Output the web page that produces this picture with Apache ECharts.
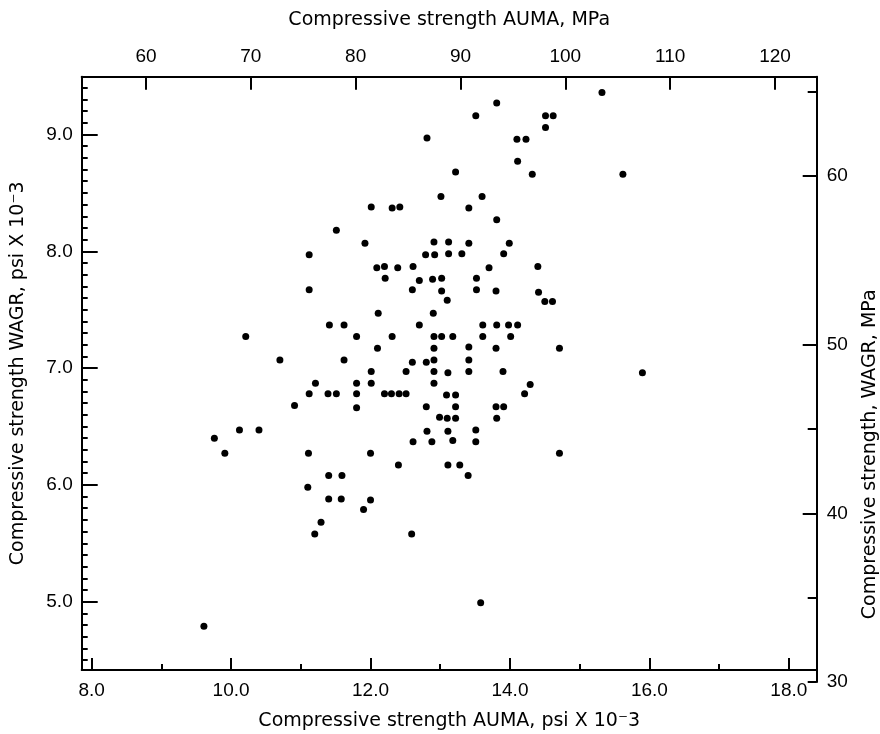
<!DOCTYPE html>
<html><head><meta charset="utf-8">
<script src="https://cdn.jsdelivr.net/npm/echarts@6/dist/echarts.min.js"></script>
<style>html,body{margin:0;padding:0;background:#fff}#c{width:880px;height:734px}</style>
</head><body><div id="c"></div>
<script>
// AUMA compressive strength, psi x 10^-3 (x)
const aumaPsi = [
12.01,12.31,12.42,11.51,11.92,11.12,12.09,12.20,12.39,12.61,12.21,12.70,12.60,11.12,12.11,11.41,11.62,12.70,10.21,11.80,12.31,
13.81,13.51,14.51,14.62,14.51,12.81,14.10,14.23,14.11,13.22,14.32,13.01,13.60,13.41,13.81,12.91,13.12,13.41,13.99,12.79,12.92,13.12,13.31,13.91,13.70,14.40,12.89,13.02,13.52,13.02,13.52,13.80,14.41,13.10,14.50,14.61,12.90,13.61,13.81,13.98,14.11,12.91,13.02,13.18,13.61,14.01,
12.10,10.70,11.62,12.60,12.01,12.51,11.21,11.80,12.01,11.12,11.39,11.51,11.80,12.20,12.30,12.41,12.51,10.91,11.80,10.12,10.40,12.61,11.11,12.00,12.40,11.40,11.59,11.10,11.40,11.58,12.00,11.90,11.29,11.20,12.59,
12.91,13.41,13.80,14.71,12.80,12.91,13.41,12.91,13.11,13.41,13.90,12.91,14.29,14.21,13.09,13.22,12.80,13.22,13.80,13.91,12.99,13.10,13.22,13.81,12.81,13.11,13.51,12.88,13.18,13.51,14.71,13.11,13.28,13.40,
15.32,15.62,15.90,13.58,9.76,9.91,9.61
];
// WAGR compressive strength, psi x 10^-3 (y)
const wagrPsi = [
8.38,8.37,8.38,8.18,8.07,7.97,7.86,7.87,7.86,7.87,7.77,7.75,7.67,7.67,7.47,7.37,7.37,7.37,7.27,7.27,7.27,
9.27,9.16,9.16,9.16,9.06,8.97,8.96,8.96,8.77,8.68,8.66,8.47,8.47,8.37,8.27,8.08,8.08,8.07,8.07,7.97,7.97,7.98,7.98,7.98,7.86,7.87,7.76,7.77,7.77,7.66,7.67,7.66,7.65,7.58,7.57,7.57,7.47,7.37,7.37,7.37,7.37,7.27,7.27,7.27,7.27,7.27,
7.17,7.07,7.07,7.05,6.97,6.97,6.87,6.87,6.87,6.78,6.78,6.78,6.78,6.78,6.78,6.78,6.78,6.68,6.66,6.47,6.47,6.37,6.27,6.27,6.17,6.08,6.08,5.98,5.88,5.88,5.87,5.79,5.68,5.58,5.58,
7.17,7.18,7.17,7.17,7.05,7.07,7.07,6.97,6.96,6.97,6.97,6.87,6.86,6.78,6.77,6.77,6.67,6.67,6.67,6.67,6.58,6.57,6.57,6.57,6.46,6.46,6.47,6.37,6.38,6.37,6.27,6.17,6.17,6.08,
9.36,8.66,6.96,4.99,6.40,6.27,4.79
];
const bottomTicks = [8, 10, 12, 14, 16, 18];
const bottomMinorTicks = [9, 11, 13, 15, 17];
const topTicks = [60, 70, 80, 90, 100, 110, 120];
const leftTicks = [5, 6, 7, 8, 9];
const rightTicks = [40, 50, 60];
const rightLabels = [30, 40, 50, 60];
const rightMinorTicks = [30, 35, 45, 65];
const leftMinorTicks = [];
for (let i = 45; i <= 94; i++) if (i % 10) leftMinorTicks.push(i / 10);

const LABEL_FONT = 'Liberation Sans';
const TITLE_FONT = 'DejaVu Sans';
const lbl = { color: '#000', fontFamily: LABEL_FONT, fontSize: 19 };
const ttl = { color: '#000', fontFamily: TITLE_FONT, fontSize: 19 };
const line = { show: true, onZero: false, lineStyle: { color: '#000', width: 2 } };
const noLine = { show: false, onZero: false };
const tick = (len, vals) => ({ show: true, inside: true, length: len, customValues: vals, lineStyle: { color: '#000', width: 2 } });

const X_MIN = 7.857, X_MAX = 18.40, Y_MIN = 4.415, Y_MAX = 9.495;
const M_TOP_MIN = 53.87, M_TOP_MAX = 123.98, M_R_MIN = 30, M_R_MAX = 65.88;

const data = aumaPsi.map((x, i) => [x, wagrPsi[i]]);

const mainRect = { left: 81.7, right: 63.3, top: 76.7, bottom: 64, containLabel: false, outerBoundsMode: 'none' };
const rightRect = { left: 81.7, right: 63.3, top: 76.7, bottom: 52, containLabel: false, outerBoundsMode: 'none' };

const chart = echarts.init(document.getElementById('c'), null, { renderer: 'canvas' });
chart.setOption({
  animation: false,
  backgroundColor: '#fff',
  grid: [ { ...mainRect }, { ...rightRect }, { ...mainRect }, { ...rightRect } ],
  xAxis: [
    { gridIndex: 0, type: 'value', position: 'bottom', min: X_MIN, max: X_MAX,
      axisLine: line, splitLine: { show: false },
      axisTick: tick(12, bottomTicks),
      axisLabel: { customValues: bottomTicks, formatter: v => v.toFixed(1), margin: 11, ...lbl },
      name: 'Compressive strength AUMA, psi X 10\u207B3', nameLocation: 'middle', nameGap: 42,
      nameTextStyle: ttl },
    { gridIndex: 0, type: 'value', position: 'top', min: M_TOP_MIN, max: M_TOP_MAX,
      axisLine: line, splitLine: { show: false },
      axisTick: tick(13, topTicks),
      axisLabel: { customValues: topTicks, margin: 10, ...lbl },
      name: 'Compressive strength AUMA, MPa', nameLocation: 'middle', nameGap: 47,
      nameTextStyle: ttl },
    { gridIndex: 1, type: 'value', show: false, min: 1, max: 2, axisLine: noLine },
    { gridIndex: 2, type: 'value', position: 'bottom', min: X_MIN, max: X_MAX,
      axisLine: noLine, splitLine: { show: false },
      axisTick: tick(6, bottomMinorTicks), axisLabel: { show: false } },
    { gridIndex: 3, type: 'value', show: false, min: 1, max: 2, axisLine: noLine }
  ],
  yAxis: [
    { gridIndex: 0, type: 'value', position: 'left', min: Y_MIN, max: Y_MAX,
      axisLine: line, splitLine: { show: false },
      axisTick: tick(16, leftTicks),
      axisLabel: { customValues: leftTicks, formatter: v => v.toFixed(1), margin: 9, ...lbl },
      name: 'Compressive strength WAGR, psi X 10\u207B3', nameLocation: 'middle', nameGap: 54, nameRotate: 90,
      nameTextStyle: ttl },
    { gridIndex: 1, type: 'value', position: 'right', min: M_R_MIN, max: M_R_MAX,
      axisLine: line, splitLine: { show: false },
      axisTick: tick(14, rightTicks),
      axisLabel: { customValues: rightLabels, margin: 10, ...lbl },
      name: 'Compressive strength, WAGR, MPa', nameLocation: 'middle', nameGap: 44, nameRotate: 90,
      nameTextStyle: { ...ttl, padding: [0, 150, 0, 0] } },
    { gridIndex: 2, type: 'value', position: 'left', min: Y_MIN, max: Y_MAX,
      axisLine: noLine, splitLine: { show: false },
      axisTick: tick(6, leftMinorTicks), axisLabel: { show: false } },
    { gridIndex: 3, type: 'value', position: 'right', min: M_R_MIN, max: M_R_MAX,
      axisLine: noLine, splitLine: { show: false },
      axisTick: tick(9, rightMinorTicks), axisLabel: { show: false } }
  ],
  series: [{
    type: 'scatter', xAxisIndex: 0, yAxisIndex: 0, data: data,
    symbol: 'circle', symbolSize: 7, itemStyle: { color: '#000', opacity: 1 }, silent: true
  }]
});
</script>
</body></html>
